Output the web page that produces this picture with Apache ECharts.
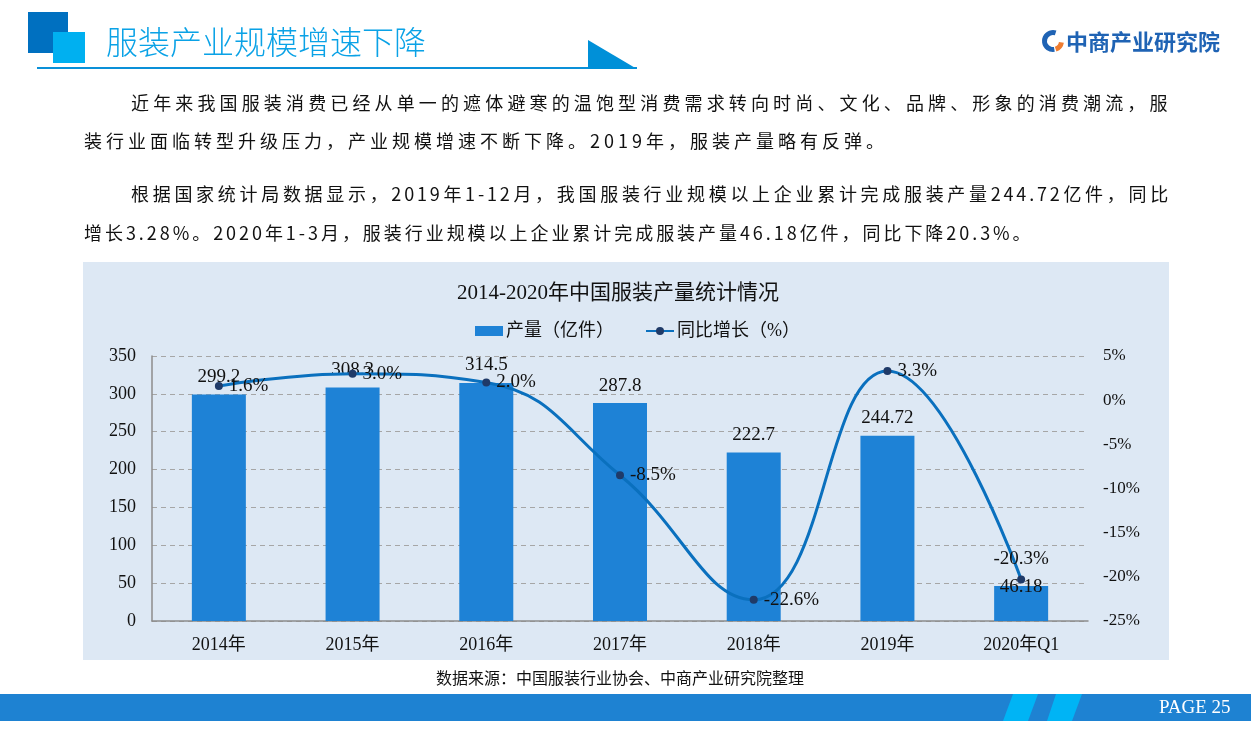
<!DOCTYPE html>
<html>
<head>
<meta charset="utf-8">
<script src="https://cdn.jsdelivr.net/npm/echarts@6/dist/echarts.min.js"></script>
<style>
  html, body { margin: 0; padding: 0; background: #ffffff; }
  #wrap { position: relative; width: 1251px; height: 733px; overflow: hidden; }
  #chart { position: absolute; left: 0; top: 0; width: 1251px; height: 733px; }
  .p { position: absolute; font-family: "Noto Sans CJK SC", sans-serif; font-size: 18px; line-height: 22px; color: #111; z-index: 5; }
  .j { text-align: justify; text-align-last: justify; }
</style>
</head>
<body>
<div id="wrap">
  <div id="chart"></div>
  <div class="p j" style="left:131px; top:91px; width:1040px; letter-spacing:3.5px;">近年来我国服装消费已经从单一的遮体避寒的温饱型消费需求转向时尚、文化、品牌、形象的消费潮流，服</div>
  <div class="p" style="left:84px; top:129px; letter-spacing:4px; white-space:nowrap;">装行业面临转型升级压力，产业规模增速不断下降。2019年，服装产量略有反弹。</div>
  <div class="p j" style="left:131px; top:182px; width:1040px; letter-spacing:2.8px;">根据国家统计局数据显示，2019年1-12月，我国服装行业规模以上企业累计完成服装产量244.72亿件，同比</div>
  <div class="p" style="left:84px; top:221px; letter-spacing:2.95px; white-space:nowrap;">增长3.28%。2020年1-3月，服装行业规模以上企业累计完成服装产量46.18亿件，同比下降20.3%。</div>
</div>
<script>
// ---- data ----
const categories = ['2014年', '2015年', '2016年', '2017年', '2018年', '2019年', '2020年Q1'];
const output = [299.2, 308.3, 314.5, 287.8, 222.7, 244.72, 46.18];
const growth = [1.6, 3.0, 2.0, -8.5, -22.6, 3.3, -20.3];
const seriesNames = ['产量（亿件）', '同比增长（%）'];
const chartTitle = '2014-2020年中国服装产量统计情况';
const sourceText = '数据来源：中国服装行业协会、中商产业研究院整理';
const pageTitle = '服装产业规模增速下降';
const logoText = '中商产业研究院';
const pageText = 'PAGE 25';

const serif = "'Liberation Serif', 'Noto Sans CJK SC', serif";
const sans = "'Noto Sans CJK SC', sans-serif";

const barData = output.map((v, i) => {
  const d = { value: v };
  if (i === output.length - 1) d.label = { offset: [0, 18] };
  return d;
});
const lineData = growth.map((v, i) => {
  const d = { value: v };
  if (i === growth.length - 1) d.label = { position: 'top', distance: 7 };
  return d;
});

const chart = echarts.init(document.getElementById('chart'), null, { renderer: 'canvas' });
chart.setOption({
  animation: false,
  backgroundColor: '#ffffff',
  graphic: [
    { type: 'rect', z: -100, shape: { x: 83, y: 262, width: 1086, height: 398 }, style: { fill: '#dde8f4' } },
    // header
    { type: 'rect', shape: { x: 28, y: 12, width: 40, height: 41 }, style: { fill: '#0070c0' } },
    { type: 'rect', shape: { x: 53, y: 32, width: 32, height: 31 }, style: { fill: '#00b0f0' } },
    { type: 'text', x: 106, y: 42, style: { text: pageTitle, font: '300 32px ' + sans, fill: '#0aa2e6', textVerticalAlign: 'middle' } },
    { type: 'rect', shape: { x: 37, y: 67, width: 600, height: 2 }, style: { fill: '#0a90d8' } },
    { type: 'polygon', shape: { points: [[588, 40], [588, 69], [637, 69]] }, style: { fill: '#0090d8' } },
    // logo
    { type: 'sector', shape: { cx: 1053, cy: 41, r: 11, r0: 6, startAngle: Math.PI * 0.45, endAngle: Math.PI * 1.6 }, style: { fill: '#1f63b4' } },
    { type: 'sector', shape: { cx: 1053, cy: 41, r: 11, r0: 6, startAngle: Math.PI * 0.05, endAngle: Math.PI * 0.4 }, style: { fill: '#ef7d31' } },
    { type: 'text', x: 1066, y: 42, style: { text: logoText, font: 'bold 22px ' + sans, fill: '#1f63b4', textVerticalAlign: 'middle' } },
    // chart title
    { type: 'text', x: 618, y: 293, style: { text: chartTitle, font: '21px ' + serif, fill: '#111', textAlign: 'center', textVerticalAlign: 'middle' } },
    // source
    { type: 'text', x: 620, y: 678, style: { text: sourceText, font: '16px ' + sans, fill: '#111', textAlign: 'center', textVerticalAlign: 'middle' } },
    // footer
    { type: 'rect', shape: { x: 0, y: 694, width: 1251, height: 27 }, style: { fill: '#1e82d2' } },
    { type: 'polygon', shape: { points: [[1013, 694], [1038, 694], [1028, 721], [1003, 721]] }, style: { fill: '#00b4f5' } },
    { type: 'polygon', shape: { points: [[1056, 694], [1082, 694], [1072, 721], [1047, 721]] }, style: { fill: '#00b4f5' } },
    { type: 'text', x: 1159, y: 708, style: { text: pageText, font: '19px ' + serif, fill: '#ffffff', textVerticalAlign: 'middle' } }
  ],
  legend: {
    left: 470, top: 317,
    itemWidth: 28, itemHeight: 10, itemGap: 31,
    textStyle: { fontSize: 18, fontFamily: serif, color: '#111', padding: [0, 0, 0, -2] },
    data: [
      { name: seriesNames[0], icon: 'rect' },
      { name: seriesNames[1] }
    ]
  },
  grid: { left: 152, right: 163, top: 356, bottom: 112, containLabel: false },
  xAxis: {
    type: 'category', data: categories,
    axisLine: { lineStyle: { color: '#8c8c8c', width: 1.5 } },
    axisTick: { show: false },
    axisLabel: { fontSize: 18, fontFamily: serif, color: '#111', margin: 15 }
  },
  yAxis: [
    {
      type: 'value', min: 0, max: 350, interval: 50,
      axisLine: { show: true, lineStyle: { color: '#8c8c8c', width: 1.5 } },
      axisTick: { show: false },
      splitLine: { lineStyle: { color: '#a6a6a6', type: [5, 4] } },
      axisLabel: { fontSize: 18, fontFamily: serif, color: '#111', margin: 16 }
    },
    {
      type: 'value', min: -25, max: 5, interval: 5,
      axisLine: { show: false }, axisTick: { show: false }, splitLine: { show: false },
      axisLabel: { fontSize: 17, fontFamily: serif, color: '#111', margin: 15, formatter: '{value}%' }
    }
  ],
  series: [
    {
      name: seriesNames[0], type: 'bar', data: barData, barWidth: 54,
      itemStyle: { color: '#1e82d6' },
      label: { show: true, position: 'top', distance: 8, fontSize: 19, fontFamily: serif, color: '#111' }
    },
    {
      name: seriesNames[1], type: 'line', yAxisIndex: 1, data: lineData, smooth: 0.45,
      symbol: 'circle', symbolSize: 8,
      lineStyle: { color: '#0a70be', width: 3 },
      itemStyle: { color: '#1f3a68' },
      label: { show: true, position: 'right', distance: 6, fontSize: 19, fontFamily: serif, color: '#111',
        formatter: p => p.value.toFixed(1) + '%' }
    }
  ]
});
</script>
</body>
</html>
